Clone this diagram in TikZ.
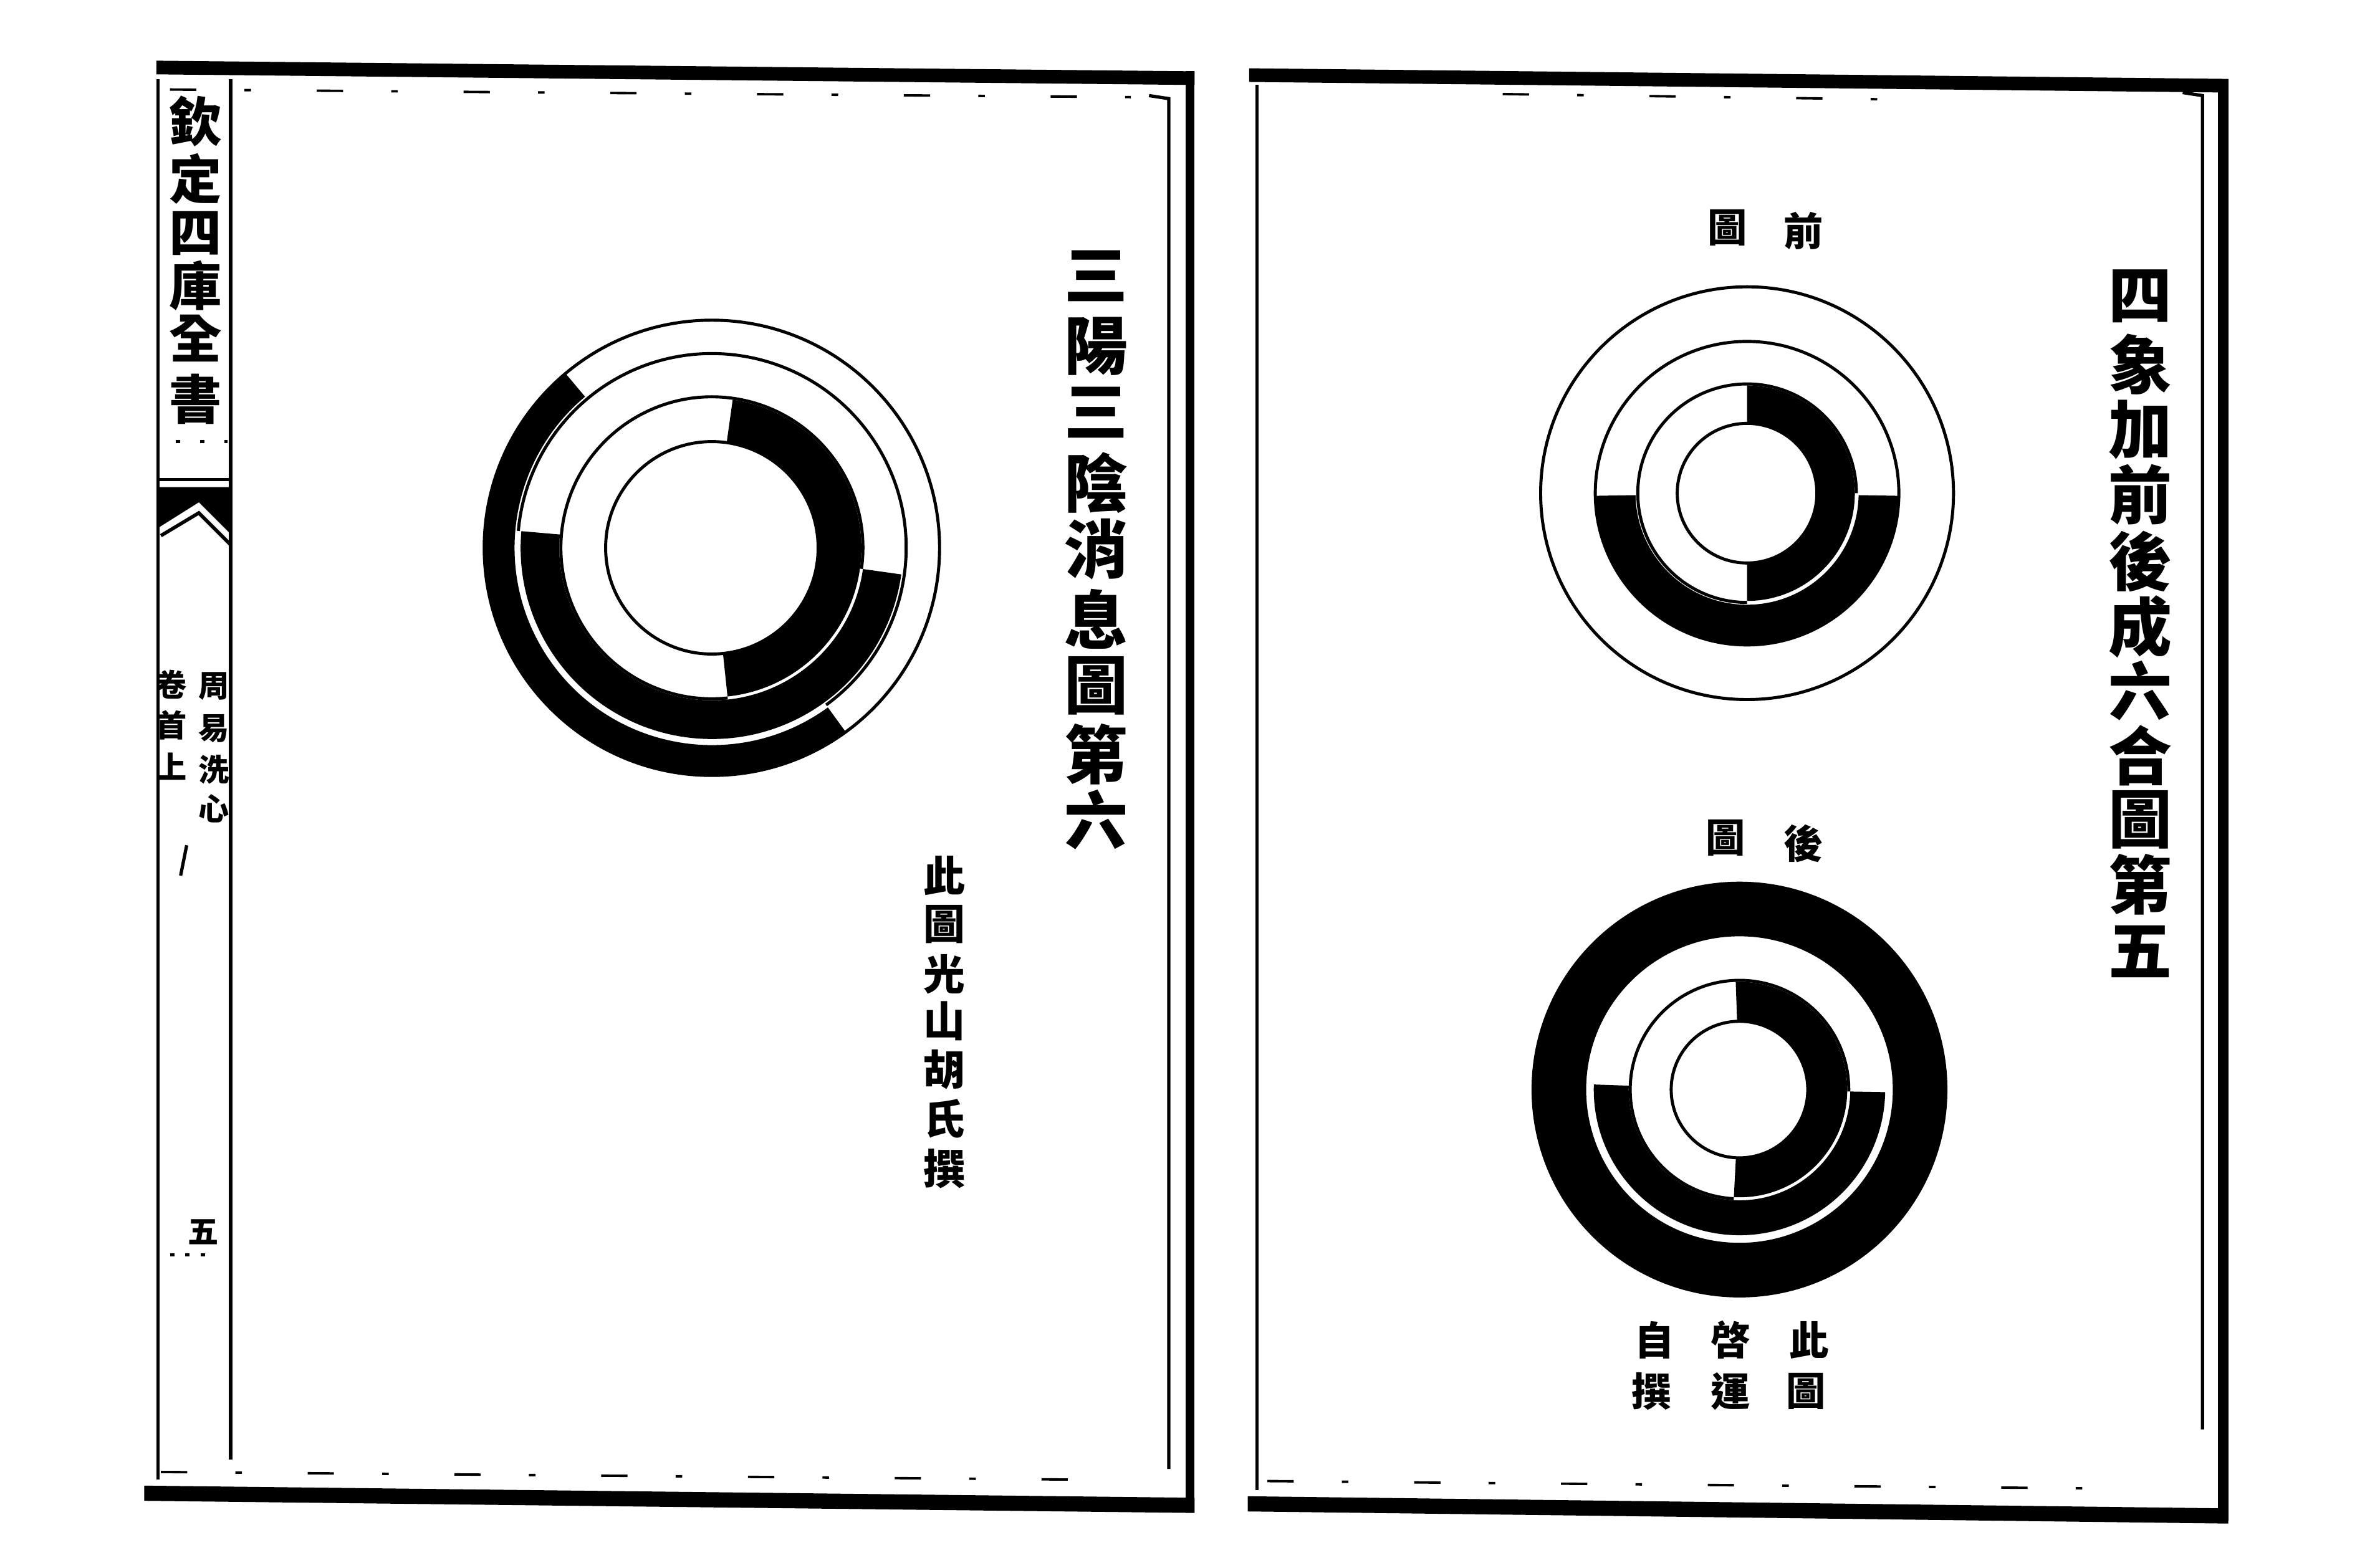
\documentclass[tikz,border=0pt]{standalone}
\usepackage{fontspec}
\setmainfont{Noto Sans CJK TC}
\usetikzlibrary{calc}
\tikzset{
  cl/.style={line width=1.4pt, draw=black},
  frameline/.style={line width=1.5pt, draw=black},
  brokenline/.style={line width=1.1pt, draw=black, dash pattern=on 12pt off 22pt on 3pt off 30pt},
  tx/.style={inner sep=0pt, outer sep=0pt, anchor=center, text=black},
  hdr/.style={tx, font=\fontsize{24pt}{24pt}\selectfont\bfseries},
  ttl/.style={tx, font=\fontsize{29pt}{29pt}\selectfont\bfseries},
  note/.style={tx, font=\fontsize{19pt}{19pt}\selectfont\bfseries},
  lbl/.style={tx, font=\fontsize{18pt}{18pt}\selectfont\bfseries},
  smallch/.style={tx, font=\fontsize{14pt}{14pt}\selectfont\bfseries},
}
% annular sector: #1 centre, #2 inner r, #3 outer r, #4 start angle, #5 end angle
\newcommand{\ringsec}[5]{%
  \fill[black] ($(#1)+(#4:#3)$) arc[start angle=#4, end angle=#5, radius=#3]
    -- ($(#1)+(#5:#2)$) arc[start angle=#5, end angle=#4, radius=#2] -- cycle;}
\newcommand{\ringarc}[4]{% #1 centre, #2 r, #3 start, #4 end
  \draw[cl] ($(#1)+(#3:#2)$) arc[start angle=#3, end angle=#4, radius=#2];}

\begin{document}
\begin{tikzpicture}[x=0.02435cm,y=0.02435cm]
\fill[white] (0,0) rectangle (1568,-1033);
\useasboundingbox (0,0) rectangle (1568,-1033);

% ================= LEFT PAGE FRAME =================
\fill[black] (103,-40) -- (787,-47) -- (787,-56) -- (103,-49) -- cycle;
\fill[black] (781,-47) rectangle (787,-992);
\fill[black] (95,-979) -- (787,-987) -- (787,-997) -- (95,-989) -- cycle;
\draw[frameline] (104,-52) -- (104,-975);
\draw[frameline] (152,-52) -- (152,-962);
\draw[frameline] (757,-63) -- (770,-65) -- (770,-968);
\draw[brokenline] (112,-59) -- (745,-64);
\draw[brokenline] (106,-970) -- (705,-975);

% header column
\foreach \c/\yy [count=\i] in {欽/80,定/118,四/154,庫/188,全/223,書/263}
  \node[hdr] (hd\i) at (129,-\yy) {\c};
\draw[line width=1.4pt, dash pattern=on 2pt off 9pt] (116,-291) -- (150,-291);
% fish tail
\draw[line width=1.6pt] (104,-316) -- (152,-316);
\fill[black] (104,-321) -- (152,-321) -- (152,-352) -- (131,-331) -- (104,-348) -- cycle;
\draw[line width=1.6pt] (106,-353) -- (131,-338) -- (152,-359);
% book title and chapter
\foreach \c/\yy [count=\i] in {周/452,易/480,洗/507,心/533}
  \node[smallch] (bt\i) at (141,-\yy) {\c};
\foreach \c/\yy [count=\i] in {卷/451,首/478,上/505}
  \node[smallch] (jc\i) at (113,-\yy) {\c};
\draw[line width=1.5pt] (123,-557) -- (119,-577);
\node[smallch] (pg) at (134,-812) {五};
\draw[line width=1.5pt, dash pattern=on 2pt off 5pt] (112,-827) -- (142,-827);

% left title
\foreach \c/\yy [count=\i] in {三/182,陽/228,三/272,陰/318,消/362,息/408,圖/452,第/497,六/540}
  \node[ttl] (lt\i) at (722,-\yy) {\c};
% left note
\foreach \c/\yy [count=\i] in {此/577,圖/609,光/642,山/673,胡/705,氏/737,撰/770}
  \node[note] (ln\i) at (622,-\yy) {\c};

% left diagram
\coordinate (L) at (469,-361);
\ringsec{L}{70}{98.5}{-84}{82}
\ringsec{L}{100.5}{126}{175}{352}
\ringsec{L}{130}{150}{130}{306}
\draw[cl] (L) circle[radius=70];
\ringarc{L}{99.5}{-8}{276}
\ringarc{L}{128}{-54}{175}
\draw[cl] (L) circle[radius=150];

% ================= RIGHT PAGE FRAME =================
\fill[black] (823,-45) -- (1468,-52) -- (1468,-61) -- (823,-54) -- cycle;
\fill[black] (1461,-52) rectangle (1468,-1002);
\fill[black] (822,-986) -- (1468,-994) -- (1468,-1004) -- (822,-996) -- cycle;
\draw[frameline] (828,-56) -- (828,-982);
\draw[frameline] (1438,-61) -- (1451,-63) -- (1451,-942);
\draw[brokenline] (990,-62) -- (1280,-66);
\draw[brokenline] (835,-976) -- (1400,-981);

% right title
\foreach \c/\yy [count=\i] in {四/195,象/240,加/283,前/326,後/370,成/413,六/455,合/498,圖/540,第/583,五/627}
  \node[ttl] (rt\i) at (1410,-\yy) {\c};

% top diagram labels
\node[lbl] (qa) at (1188,-152) {前};
\node[lbl] (qb) at (1138,-150) {圖};
% top diagram
\coordinate (T) at (1151,-325);
\ringsec{T}{46}{71}{-90}{90}
\ringsec{T}{73.5}{100}{181}{359}
\draw[cl] (T) circle[radius=46];
\ringarc{T}{72}{0}{270}
\draw[cl] (T) circle[radius=100];
\draw[cl] (T) circle[radius=136];

% bottom diagram labels
\node[lbl] (ha) at (1188,-556) {後};
\node[lbl] (hb) at (1137,-552) {圖};
% bottom diagram
\coordinate (B) at (1146,-718);
\ringsec{B}{45}{71}{-93}{92}
\ringsec{B}{73}{96}{178}{359}
\ringsec{B}{101}{137}{0}{360}
\draw[cl] (B) circle[radius=45];
\ringarc{B}{72}{-1}{267}

% bottom note
\node[lbl] (n1) at (1192,-883) {此};
\node[lbl] (n2) at (1190,-917) {圖};
\node[lbl] (n3) at (1140,-883) {啓};
\node[lbl] (n4) at (1140,-917) {運};
\node[lbl] (n5) at (1090,-883) {自};
\node[lbl] (n6) at (1088,-917) {撰};
\end{tikzpicture}
\end{document}
